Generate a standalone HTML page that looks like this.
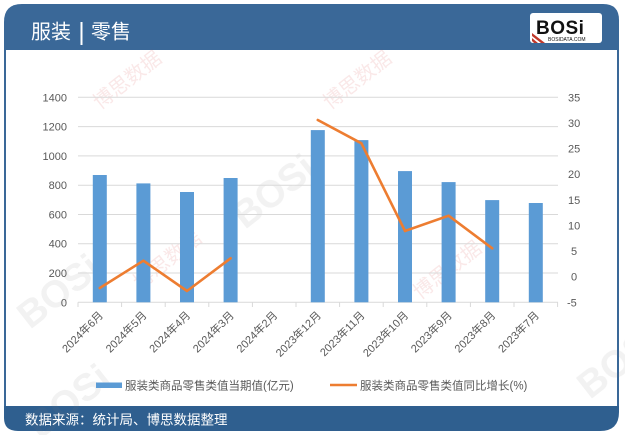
<!DOCTYPE html>
<html><head><meta charset="utf-8"><style>
html,body{margin:0;padding:0;background:#fff;}
svg{display:block;}
</style></head><body>
<svg width="625" height="435" viewBox="0 0 625 435" xmlns="http://www.w3.org/2000/svg" font-family="'Liberation Sans','Noto Sans CJK SC',sans-serif">
<!-- card -->
<path d="M4,50 L4,22 Q4,4 22,4 L603,4 Q619,4 619,20 L619,50 Z" fill="#3a6898"/>
<rect x="4" y="50" width="615" height="357" fill="#fff"/>
<line x1="5" y1="50" x2="5" y2="407" stroke="#3a6898" stroke-width="2"/>
<line x1="618" y1="50" x2="618" y2="407" stroke="#3a6898" stroke-width="2"/>
<path d="M4,406 L619,406 L619,412 Q619,431 600,431 L18,431 Q4,431 4,418 Z" fill="#2f5f8f"/>
<!-- title -->
<text x="31" y="38.5" font-size="20" fill="#fff">服装</text>
<rect x="80.5" y="22" width="2" height="23" fill="#fff"/>
<text x="91" y="38.5" font-size="20" fill="#fff">零售</text>
<!-- logo -->
<rect x="530" y="13" width="72" height="30" rx="3" fill="#fff"/>
<text x="536" y="34" font-size="19" font-weight="bold" fill="#111" letter-spacing="0.5">BOSi</text>
<text x="548" y="41" font-size="5" fill="#111">BOSIDATA.COM</text>
<path d="M532,33 L545,43 L541,43 L532,36 Z M532,38 L538,43 L534,43 L532,41 Z" fill="#c0392b"/>
<!-- watermarks -->
<g opacity="0.10" font-weight="bold" fill="#777">
<text x="0" y="0" font-size="38" transform="translate(30,330) rotate(-38)">BOSi</text>
<text x="0" y="0" font-size="38" transform="translate(245,230) rotate(-38)">BOSi</text>
<text x="0" y="0" font-size="38" transform="translate(590,400) rotate(-38)">BOSi</text>
<text x="0" y="0" font-size="38" transform="translate(40,440) rotate(-38)">BOSi</text>
</g>
<g opacity="0.12" fill="#d04040">
<text x="0" y="0" font-size="20" transform="translate(100,110) rotate(-38)">博思数据</text>
<text x="0" y="0" font-size="20" transform="translate(330,110) rotate(-38)">博思数据</text>
<text x="0" y="0" font-size="20" transform="translate(140,290) rotate(-38)">博思数据</text>
<text x="0" y="0" font-size="20" transform="translate(420,300) rotate(-38)">博思数据</text>
</g>
<!-- gridlines -->
<g stroke="#d9d9d9" stroke-width="1">
<line x1="78" y1="97.3" x2="558" y2="97.3"/>
<line x1="78" y1="126.6" x2="558" y2="126.6"/>
<line x1="78" y1="155.9" x2="558" y2="155.9"/>
<line x1="78" y1="185.2" x2="558" y2="185.2"/>
<line x1="78" y1="214.5" x2="558" y2="214.5"/>
<line x1="78" y1="243.7" x2="558" y2="243.7"/>
<line x1="78" y1="273.0" x2="558" y2="273.0"/>
<line x1="78" y1="302.3" x2="558" y2="302.3"/>
<line x1="78" y1="302.3" x2="78" y2="307"/>
<line x1="121.6" y1="302.3" x2="121.6" y2="307"/>
<line x1="165.2" y1="302.3" x2="165.2" y2="307"/>
<line x1="208.8" y1="302.3" x2="208.8" y2="307"/>
<line x1="252.4" y1="302.3" x2="252.4" y2="307"/>
<line x1="296" y1="302.3" x2="296" y2="307"/>
<line x1="339.6" y1="302.3" x2="339.6" y2="307"/>
<line x1="383.2" y1="302.3" x2="383.2" y2="307"/>
<line x1="426.8" y1="302.3" x2="426.8" y2="307"/>
<line x1="470.4" y1="302.3" x2="470.4" y2="307"/>
<line x1="514" y1="302.3" x2="514" y2="307"/>
<line x1="557.6" y1="302.3" x2="557.6" y2="307"/>
</g>
<!-- left axis labels -->
<g font-size="11" fill="#595959" text-anchor="end">
<text x="67" y="101.3">1400</text>
<text x="67" y="130.6">1200</text>
<text x="67" y="159.9">1000</text>
<text x="67" y="189.2">800</text>
<text x="67" y="218.5">600</text>
<text x="67" y="247.7">400</text>
<text x="67" y="277.0">200</text>
<text x="67" y="306.3">0</text>
</g>
<!-- right axis labels -->
<g font-size="11" fill="#595959">
<text x="568" y="101.3">35</text>
<text x="568" y="126.9">30</text>
<text x="568" y="152.5">25</text>
<text x="568" y="178.2">20</text>
<text x="568" y="203.8">15</text>
<text x="568" y="229.4">10</text>
<text x="571" y="255.1">5</text>
<text x="571" y="280.7">0</text>
<text x="567" y="306.3">-5</text>
</g>
<!-- bars -->
<g fill="#5b9bd5">
<rect x="92.8" y="175.0" width="14" height="127.3"/>
<rect x="136.4" y="183.4" width="14" height="118.9"/>
<rect x="180" y="192.0" width="14" height="110.3"/>
<rect x="223.6" y="178.0" width="14" height="124.3"/>
<rect x="310.8" y="130.1" width="14" height="172.2"/>
<rect x="354.4" y="140.1" width="14" height="162.2"/>
<rect x="398" y="171.1" width="14" height="131.2"/>
<rect x="441.6" y="182.1" width="14" height="120.2"/>
<rect x="485.2" y="200.1" width="14" height="102.2"/>
<rect x="528.8" y="203.0" width="14" height="99.3"/>
</g>
<!-- line -->
<g fill="none" stroke="#ed7d31" stroke-width="2.6" stroke-linejoin="round" stroke-linecap="round">
<polyline points="99.8,288 143.4,260.7 187,291 230.6,258.3"/>
<polyline points="317.8,120 361.4,143.3 405,231 448.6,215.7 492.2,248.3"/>
</g>
<!-- x labels -->
<g font-size="11" fill="#595959" text-anchor="end">
<text transform="translate(103.8,316) rotate(-45)">2024年6月</text>
<text transform="translate(147.4,316) rotate(-45)">2024年5月</text>
<text transform="translate(191,316) rotate(-45)">2024年4月</text>
<text transform="translate(234.6,316) rotate(-45)">2024年3月</text>
<text transform="translate(278.2,316) rotate(-45)">2024年2月</text>
<text transform="translate(321.8,316) rotate(-45)">2023年12月</text>
<text transform="translate(365.4,316) rotate(-45)">2023年11月</text>
<text transform="translate(409,316) rotate(-45)">2023年10月</text>
<text transform="translate(452.6,316) rotate(-45)">2023年9月</text>
<text transform="translate(496.2,316) rotate(-45)">2023年8月</text>
<text transform="translate(539.8,316) rotate(-45)">2023年7月</text>
</g>
<!-- legend -->
<rect x="96" y="382.5" width="26" height="5.5" fill="#5b9bd5"/>
<text x="125" y="389.5" font-size="11.5" fill="#595959">服装类商品零售类值当期值(亿元)</text>
<line x1="330" y1="385" x2="357" y2="385" stroke="#ed7d31" stroke-width="2.6"/>
<text x="360" y="389.5" font-size="11.5" fill="#595959">服装类商品零售类值同比增长(%)</text>
<!-- footer -->
<text x="25" y="424.5" font-size="13.5" fill="#fff">数据来源：统计局、博思数据整理</text>
</svg>
</body></html>
